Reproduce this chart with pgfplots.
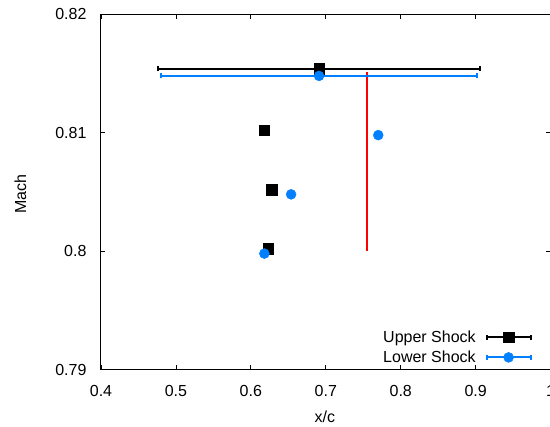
\documentclass[border=0pt]{standalone}
\usepackage{fontspec}
\setmainfont{Liberation Sans}
\usepackage{pgfplots}
\pgfplotsset{compat=1.18}
\definecolor{myblue}{RGB}{0,128,255}
\definecolor{myred}{RGB}{255,0,0}
\begin{document}
\begin{tikzpicture}
\begin{axis}[
  name=ax,
  scale only axis, width=449.6pt, height=355.4pt,
  xmin=0.4, xmax=1, ymin=0.79, ymax=0.82,
  xtick={0.4,0.5,0.6,0.7,0.8,0.9,1},
  ytick={0.79,0.8,0.81,0.82},
  scaled ticks=false,
  tick align=inside, major tick length=4.5pt,
  tick style={line width=0.8pt, black},
  axis line style={line width=1pt},
  font=\fontsize{16}{19}\selectfont,
  xticklabel style={/pgf/number format/fixed, /pgf/number format/precision=2, /pgf/number format/assume math mode=true, yshift=-12pt},
  yticklabel style={/pgf/number format/fixed, /pgf/number format/precision=2, /pgf/number format/assume math mode=true, xshift=-11pt},
  xlabel={x/c}, ylabel={Mach},
  xlabel style={at={(axis description cs:0.498,-0.133)}, anchor=center},
  ylabel style={at={(axis description cs:-0.179,0.494)}, anchor=center},
  legend plot pos=right,
  legend cell align=right,
  legend style={at={(axis description cs:0.958,0.010)}, anchor=south east, draw=none, fill=none, inner sep=0pt, row sep=3pt,
    /tikz/every odd column/.append style={column sep=8pt}},
]
% red line
\addplot[draw=myred, line width=2pt, forget plot] table {
x y
0.7556 0.8
0.7556 0.8076
0.7556 0.8151
};
% error bars (top points)
\addplot[draw=none, mark=none, forget plot,
  error bars/.cd, x dir=both, x explicit,
  error bar style={black, line width=1.8pt},
  error mark options={black, line width=1.8pt, mark size=2.5pt, rotate=90}]
  coordinates {(0.691,0.8154) +- (0.215,0)};
\addplot[draw=none, mark=none, forget plot,
  error bars/.cd, x dir=both, x explicit,
  error bar style={myblue, line width=1.8pt},
  error mark options={myblue, line width=1.8pt, mark size=2.5pt, rotate=90}]
  coordinates {(0.691,0.8148) +- (0.2105,0)};
% upper shock
\addplot[only marks, mark=square*, mark size=5.3pt, black,
  legend image code/.code={
    \draw[black, line width=1.8pt] (0pt,0pt) -- (44pt,0pt);
    \draw[black, line width=1.8pt] (0pt,-2.5pt) -- (0pt,2.5pt) (44pt,-2.5pt) -- (44pt,2.5pt);
    \fill[black] (16.7pt,-5.3pt) rectangle (27.3pt,5.3pt);
  }]
  coordinates {(0.691,0.8154) (0.618,0.8102) (0.628,0.8052) (0.6234,0.8002)};
\addlegendentry{Upper Shock}
% lower shock
\addplot[only marks, mark=*, mark size=5pt, myblue,
  legend image code/.code={
    \draw[myblue, line width=1.8pt] (0pt,0pt) -- (44pt,0pt);
    \draw[myblue, line width=1.8pt] (0pt,-2.5pt) -- (0pt,2.5pt) (44pt,-2.5pt) -- (44pt,2.5pt);
    \fill[myblue] (22pt,0pt) circle (5pt);
  }]
  coordinates {(0.691,0.8148) (0.770,0.8098) (0.6537,0.8048) (0.618,0.7998)};
\addlegendentry{Lower Shock}
\end{axis}
\pgfresetboundingbox
\useasboundingbox ([xshift=-101pt,yshift=-57.3pt]ax.south west) rectangle ++(550pt,427pt);
\end{tikzpicture}
\end{document}
